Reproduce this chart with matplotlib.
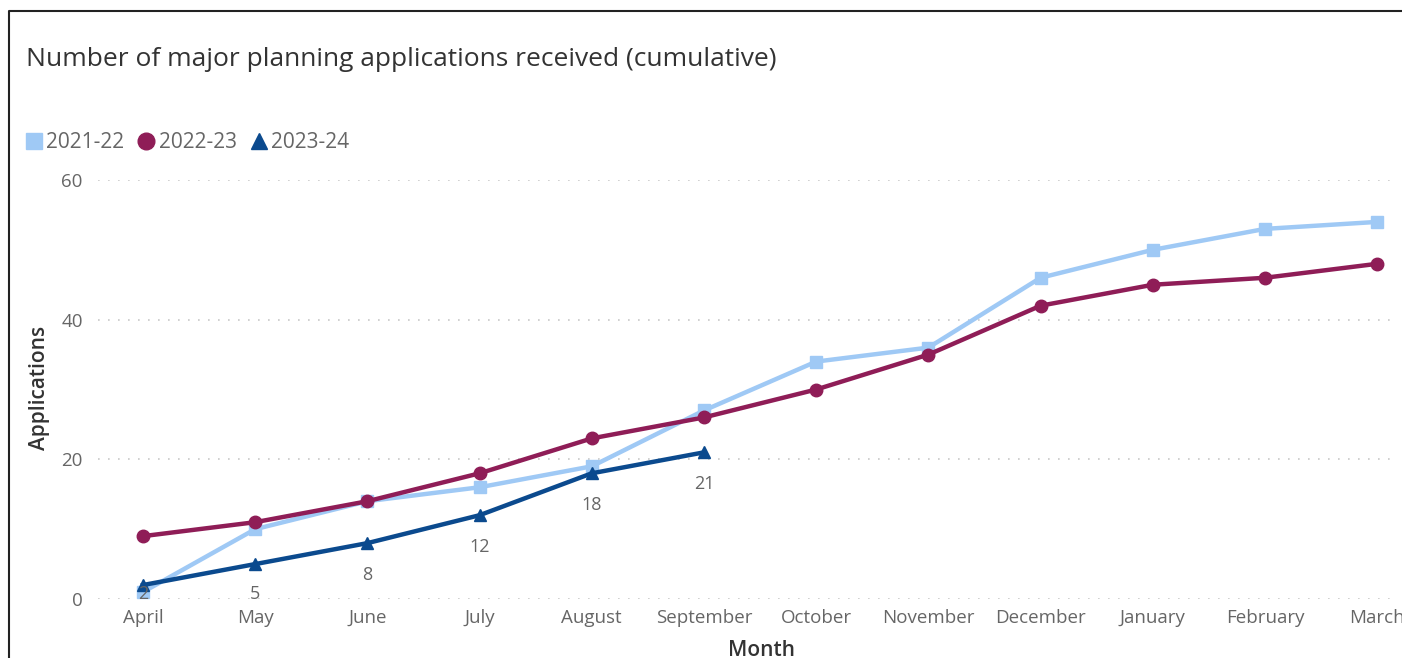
"""Cumulative major planning applications, by financial year."""

import matplotlib.pyplot as plt
from matplotlib.lines import Line2D

months = ["April", "May", "June", "July", "August", "September", "October",
          "November", "December", "January", "February", "March"]
apps_2021_22 = [1, 10, 14, 16, 19, 27, 34, 36, 46, 50, 53, 54]
apps_2022_23 = [9, 11, 14, 18, 23, 26, 30, 35, 42, 45, 46, 48]
apps_2023_24 = [2, 5, 8, 12, 18, 21]
y_ticks = [0, 20, 40, 60]

LIGHT_BLUE = "#9fc9f5"
MAROON = "#8f1d57"
DARK_BLUE = "#0b4a8e"
GREY = "#666666"
FONT = ["Open Sans", "DejaVu Sans"]

plt.rcParams["font.family"] = FONT

W, H = 1402, 658
fig = plt.figure(figsize=(W / 100, H / 100), dpi=100)
ax = fig.add_axes([98 / W, (H - 599) / H, (1397 - 98) / W, (599 - 180) / H])

x = list(range(len(months)))
ax.plot(x, apps_2021_22, color=LIGHT_BLUE, lw=3.2, marker="s", ms=9,
        clip_on=False, zorder=3)
ax.plot(x, apps_2022_23, color=MAROON, lw=3.2, marker="o", ms=9,
        clip_on=False, zorder=4)
x3 = x[:len(apps_2023_24)]
ax.plot(x3, apps_2023_24, color=DARK_BLUE, lw=3.2, marker="^", ms=9,
        clip_on=False, zorder=5)
# labels sit below the points but are kept inside the plot area
for xi, v in zip(x3, apps_2023_24):
    ax.text(xi, max(v - 4.6, 0.75), str(v), ha="center", va="center",
            fontsize=13, color=GREY, zorder=6)

ax.set_xlim((98 - 143) / 112.2, (1397 - 143) / 112.2)
ax.set_ylim(0, 60)
ax.set_yticks(y_ticks)
ax.set_xticks(x)
ax.set_xticklabels(months)
ax.grid(axis="y", color="#c8c8c8", linestyle=(0, (1, 5)), lw=1.2)
ax.grid(axis="x", visible=False)
ax.tick_params(length=0, labelsize=13.5, labelcolor=GREY)
ax.tick_params(axis="y", pad=11)
ax.tick_params(axis="x", pad=7)
for sp in ax.spines.values():
    sp.set_visible(False)
for lbl in ax.get_xticklabels():
    lbl.set_clip_on(False)

fig.text(26 / W, 1 - 60 / H, "Number of major planning applications received (cumulative)",
         fontsize=19, color="#333333", va="center", ha="left")
fig.text(40 / W, 1 - 388 / H, "Applications", rotation=90, fontsize=15,
         fontweight="semibold", color="#333333", va="center", ha="center")
fig.text(761 / W, 1 - 650 / H, "Month", fontsize=15, fontweight="semibold",
         color="#333333", va="center", ha="center")

handles = [
    Line2D([], [], ls="", marker="s", ms=11.5, color=LIGHT_BLUE),
    Line2D([], [], ls="", marker="o", ms=12, color=MAROON),
    Line2D([], [], ls="", marker="^", ms=11.5, color=DARK_BLUE),
]
fig.legend(handles, ["2021-22", "2022-23", "2023-24"], loc="center left",
           bbox_to_anchor=(17 / W, 1 - 143 / H), ncol=3, frameon=False,
           handlelength=0.6, handletextpad=0.3, columnspacing=0.75,
           fontsize=15, labelcolor=GREY, borderpad=0)

# report frame: top and left edges only
fig.add_artist(Line2D([9 / W, 9 / W, 1], [0, 1 - 11 / H, 1 - 11 / H],
                      color="#222222", lw=1.5))

fig.savefig("out.png", dpi=100)
